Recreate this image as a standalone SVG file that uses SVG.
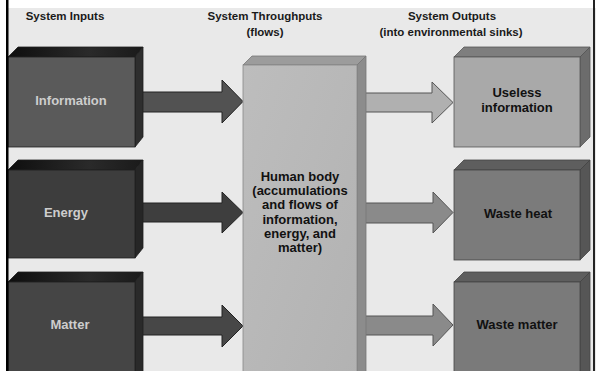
<svg xmlns="http://www.w3.org/2000/svg" width="596" height="371" viewBox="0 0 596 371">
<defs>
<linearGradient id="gTopDark" x1="0" y1="0" x2="1" y2="0">
<stop offset="0" stop-color="#0e0e0e"/><stop offset="0.6" stop-color="#2a2a2a"/><stop offset="1" stop-color="#1a1a1a"/>
</linearGradient>
<linearGradient id="gBody" x1="0" y1="0" x2="1" y2="1">
<stop offset="0" stop-color="#bdbdbd"/><stop offset="1" stop-color="#b2b2b2"/>
</linearGradient>
<style>
.hdr{font-family:"Liberation Sans",Arial,sans-serif;font-weight:bold;font-size:11.5px;fill:#1a1a1a;text-anchor:middle}
.lbl{font-family:"Liberation Sans",Arial,sans-serif;font-weight:bold;font-size:13px;text-anchor:middle}
.lin{fill:#cdcdcd}
.lout{fill:#111}
.edge{stroke:#1e1e1e;stroke-width:0.8}
.ain{stroke:#222;stroke-width:1}
.aout{stroke:#555;stroke-width:1}
</style>
</defs>
<rect x="0" y="0" width="596" height="371" fill="#e9e9e9"/>
<rect x="0" y="0" width="596" height="8" fill="#ffffff"/>
<rect x="0" y="0" width="6" height="371" fill="#ffffff"/>

<g id="headers">
<text class="hdr" x="65" y="20">System Inputs</text>
<text class="hdr" x="265" y="20">System Throughputs</text>
<text class="hdr" x="265" y="36">(flows)</text>
<text class="hdr" x="452" y="20">System Outputs</text>
<text class="hdr" x="451" y="36">(into environmental sinks)</text>
</g>

<g id="connectors">
<path class="ain" fill="#525252" d="M136,92 H222 V80 L243,101.5 L222,123 V112 H136 Z"/>
<path class="ain" fill="#3e3e3e" d="M136,203 H222 V192 L243,212.5 L222,233 V222 H136 Z"/>
<path class="ain" fill="#474747" d="M136,317 H222 V305 L243,326 L222,347 V335 H136 Z"/>
<path class="aout" fill="#b0b0b0" d="M362,93 H432 V82 L453,102.5 L432,123 V112 H362 Z"/>
<path class="aout" fill="#8a8a8a" d="M362,203 H433 V192 L453,212.5 L433,233 V223 H362 Z"/>
<path class="aout" fill="#8a8a8a" d="M362,316 H433 V304 L453,325 L433,346 V335 H362 Z"/>
</g>

<g id="information">
<polygon class="edge" fill="url(#gTopDark)" points="8,57 18,47 143,47 135,57"/>
<polygon class="edge" fill="#2e2e2e" points="135,57 143,47 143,137 135,147"/>
<rect class="edge" x="8" y="57" width="127" height="90" fill="#5a5a5a"/>
<text class="lbl lin" x="71" y="105">Information</text>
</g>

<g id="energy">
<polygon class="edge" fill="url(#gTopDark)" points="8,170 18,160 143,160 135,170"/>
<polygon class="edge" fill="#262626" points="135,170 143,160 143,248 135,258"/>
<rect class="edge" x="8" y="170" width="127" height="88" fill="#3d3d3d"/>
<text class="lbl lin" x="66" y="217">Energy</text>
</g>

<g id="matter">
<polygon class="edge" fill="url(#gTopDark)" points="8,282 18,272 143,272 135,282"/>
<polygon class="edge" fill="#2a2a2a" points="135,282 143,272 143,375 135,385"/>
<rect class="edge" x="8" y="282" width="127" height="100" fill="#454545"/>
<text class="lbl lin" x="70" y="329">Matter</text>
</g>

<g id="human-body">
<polygon stroke="#777" stroke-width="0.8" fill="#9c9c9c" points="243,65 252,56 366,56 357,65"/>
<polygon stroke="#777" stroke-width="0.8" fill="#8c8c8c" points="357,65 366,56 366,375 357,385"/>
<rect stroke="#888" stroke-width="0.8" x="243" y="65" width="114" height="320" fill="url(#gBody)"/>
<text class="lbl lout" x="300" y="181">Human body</text>
<text class="lbl lout" x="300" y="195">(accumulations</text>
<text class="lbl lout" x="300" y="209">and flows of</text>
<text class="lbl lout" x="300" y="224">information,</text>
<text class="lbl lout" x="300" y="238">energy, and</text>
<text class="lbl lout" x="300" y="252">matter)</text>
</g>

<g id="useless-information">
<polygon stroke="#555" stroke-width="0.8" fill="#7e7e7e" points="454,57 464,47 590,47 580,57"/>
<polygon stroke="#555" stroke-width="0.8" fill="#6c6c6c" points="580,57 590,47 590,137 580,147"/>
<rect stroke="#555" stroke-width="0.8" x="454" y="57" width="126" height="90" fill="#a9a9a9"/>
<text class="lbl lout" x="517" y="97">Useless</text>
<text class="lbl lout" x="517" y="112">information</text>
</g>

<g id="waste-heat">
<polygon stroke="#444" stroke-width="0.8" fill="#5e5e5e" points="454,170 464,160 590,160 580,170"/>
<polygon stroke="#444" stroke-width="0.8" fill="#565656" points="580,170 590,160 590,250 580,260"/>
<rect stroke="#444" stroke-width="0.8" x="454" y="170" width="126" height="90" fill="#7b7b7b"/>
<text class="lbl lout" x="518" y="218">Waste heat</text>
</g>

<g id="waste-matter">
<polygon stroke="#444" stroke-width="0.8" fill="#5e5e5e" points="454,282 464,272 590,272 580,282"/>
<polygon stroke="#444" stroke-width="0.8" fill="#565656" points="580,282 590,272 590,375 580,385"/>
<rect stroke="#444" stroke-width="0.8" x="454" y="282" width="126" height="100" fill="#7a7a7a"/>
<text class="lbl lout" x="517" y="329">Waste matter</text>
</g>

<rect x="6" y="0" width="2.5" height="371" fill="#000"/>
<rect x="593" y="0" width="2" height="371" fill="#222"/>
</svg>
